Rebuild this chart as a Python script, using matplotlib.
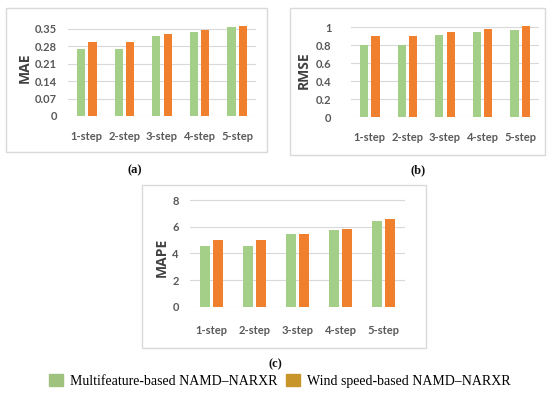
import matplotlib
matplotlib.use("Agg")
import matplotlib.pyplot as plt
from matplotlib.patches import Rectangle, Patch
import numpy as np

steps = ["1-step", "2-step", "3-step", "4-step", "5-step"]
mae_multi = [0.269, 0.269, 0.323, 0.339, 0.358]
mae_wind = [0.296, 0.296, 0.331, 0.347, 0.363]
rmse_multi = [0.80, 0.80, 0.907, 0.95, 0.963]
rmse_wind = [0.895, 0.895, 0.944, 0.98, 1.007]
mape_multi = [4.55, 4.55, 5.45, 5.75, 6.45]
mape_wind = [5.0, 5.0, 5.45, 5.83, 6.58]
legend_names = ["Multifeature-based NAMD\u2013NARXR", "Wind speed-based NAMD\u2013NARXR"]

W, H = 550, 398
green = "#a3cf88"
orange = "#f0802e"
tick_col = "#595959"
tick_font = "Lato"

fig = plt.figure(figsize=(W / 100, H / 100), dpi=100)


def px_rect(x0, x1, ytop, ybot):
    return [x0 / W, 1 - ybot / H, (x1 - x0) / W, (ybot - ytop) / H]


def box(x0, x1, ytop, ybot):
    fig.add_artist(Rectangle((x0 / W, 1 - ybot / H), (x1 - x0) / W, (ybot - ytop) / H,
                             transform=fig.transFigure, fill=False,
                             edgecolor="#d9d9d9", linewidth=1.0))


def panel(rect, multi, wind, ylim, yticks, ylabels, ylab, ylab_xy, xpad, ypad):
    ax = fig.add_axes(rect)
    x = np.arange(len(steps))
    ax.bar(x - 0.15, multi, width=0.22, color=green, zorder=3)
    ax.bar(x + 0.15, wind, width=0.22, color=orange, zorder=3)
    ax.set_xlim(-0.5, len(steps) - 0.5)
    ax.set_ylim(*ylim)
    ax.set_yticks(yticks)
    ax.set_yticklabels(ylabels)
    ax.set_xticks(x)
    ax.set_xticklabels(steps)
    ax.grid(axis="y", color="#d9d9d9", linewidth=0.8, zorder=0)
    for s in ax.spines.values():
        s.set_visible(False)
    ax.tick_params(length=0, colors=tick_col)
    ax.tick_params(axis="x", pad=xpad)
    ax.tick_params(axis="y", pad=ypad)
    for lab in ax.get_xticklabels() + ax.get_yticklabels():
        lab.set_fontfamily(tick_font)
        lab.set_fontweight("bold")
        lab.set_fontsize(8)
    fig.text(ylab_xy[0] / W, 1 - ylab_xy[1] / H, ylab, rotation=90, ha="center",
             va="center", fontsize=10, fontweight="bold", color="#404040",
             family="Open Sans")
    return ax


# panel boxes
box(6, 267, 8, 152)
box(290, 545, 8, 155)
box(142, 426, 185, 348)

panel(px_rect(68, 256, 24, 116), mae_multi, mae_wind, (0, 0.37),
      [0, 0.07, 0.14, 0.21, 0.28, 0.35], ["0", "0.07", "0.14", "0.21", "0.28", "0.35"],
      "MAE", (25, 68), 11, 8)
panel(px_rect(351, 539, 22.5, 117), rmse_multi, rmse_wind, (0, 1.05),
      [0, 0.2, 0.4, 0.6, 0.8, 1.0], ["0", "0.2", "0.4", "0.6", "0.8", "1"],
      "RMSE", (304, 70), 11, 14)
panel(px_rect(190, 405, 194.7, 306.7), mape_multi, mape_wind, (0, 8.4),
      [0, 2, 4, 6, 8], ["0", "2", "4", "6", "8"],
      "MAPE", (162, 257), 13, 8)

# captions
for lab, xx, yy in [("(a)", 135, 170), ("(b)", 418, 170), ("(c)", 275, 364)]:
    fig.text(xx / W, 1 - yy / H, lab, ha="center", va="center", fontsize=9,
             fontweight="bold", family="Liberation Serif", color="#111111")

handles = [Patch(color="#9fc27f"), Patch(color="#c8952a")]
fig.legend(handles, legend_names, loc="center", bbox_to_anchor=(280 / W, 1 - 381 / H),
           ncol=2, frameon=False, prop={"family": "Liberation Serif", "size": 10},
           handlelength=1.0, handleheight=1.0, handletextpad=0.5, columnspacing=0.6)

fig.savefig("out.png", dpi=100)
